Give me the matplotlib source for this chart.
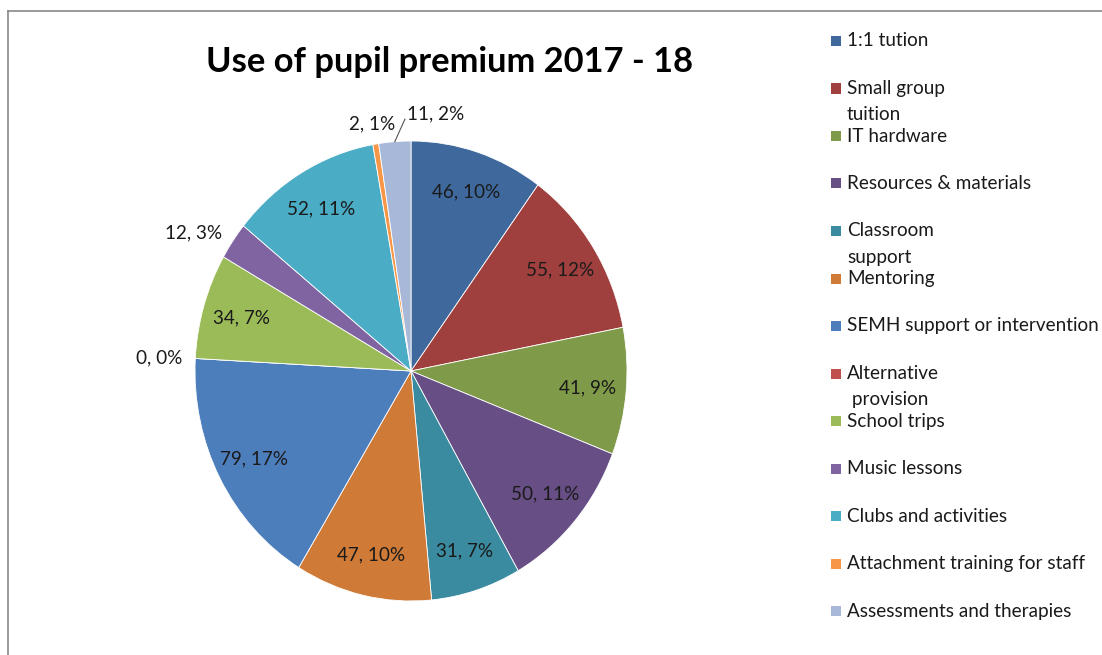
"""
Use of pupil premium 2017 - 18  (Excel-style pie with side legend)
Output: out.png
"""

import numpy as np
import matplotlib.pyplot as plt
from matplotlib.patches import Rectangle
from matplotlib.lines import Line2D

# ── data ──────────────────────────────────────────────────────────────────────
categories = [
    '1:1 tution', 'Small group\ntuition', 'IT hardware', 'Resources & materials',
    'Classroom\nsupport', 'Mentoring', 'SEMH support or intervention',
    'Alternative\n provision', 'School trips', 'Music lessons',
    'Clubs and activities', 'Attachment training for staff',
    'Assessments and therapies',
]
values = [46, 55, 41, 50, 31, 47, 79, 0, 34, 12, 52, 2, 11]
pct_labels = ['10%', '12%', '9%', '11%', '7%', '10%', '17%', '0%', '7%', '3%',
              '11%', '1%', '2%']

# ── palette (Excel 2010 style) ────────────────────────────────────────────────
colors = ['#3F699D', '#A0403E', '#7F9A48', '#674F86', '#3A8AA0', '#CF7B37',
          '#4D7EBC', '#C0504D', '#9BBB59', '#8064A2', '#4BACC6', '#F79646',
          '#A8B8D8']
FONT = 'Lato'
TXT = '#1a1a1a'
FS = 13.6
W, H = 1102, 655

fig = plt.figure(figsize=(W / 100, H / 100), dpi=100)
fig.patch.set_facecolor('white')

# pie axes (slightly stretched vertically, like the original)
cx, cy, rx, ry = 411, 371, 216, 230
ax = fig.add_axes([(cx - rx) / W, (H - cy - ry) / H, 2 * rx / W, 2 * ry / H])

wedges, _ = ax.pie(values, colors=colors, startangle=90, counterclock=False,
                   wedgeprops=dict(edgecolor='white', linewidth=0.6))
ax.set_aspect('auto')
ax.set_xlim(-1, 1)
ax.set_ylim(-1, 1)
ax.axis('off')

# ── data labels ───────────────────────────────────────────────────────────────
total = sum(values)
for i, (w, v, p) in enumerate(zip(wedges, values, pct_labels)):
    mid = np.deg2rad((w.theta1 + w.theta2) / 2)
    c, s = np.cos(mid), np.sin(mid)
    lab = f'{v}, {p}'
    kw = dict(va='center', fontsize=FS, color=TXT, family=FONT, clip_on=False)
    if v / total >= 0.04:
        ax.text(0.82 * c, 0.82 * s, lab, ha='center', **kw)
    elif i == len(values) - 1:
        # last small slice: pushed right with a leader line
        tx, ty = c + 0.055, 1.12
        ax.add_line(Line2D([c, tx - 0.008], [s, ty - 0.025], color='#555555',
                           lw=0.8, clip_on=False))
        ax.text(tx, ty, lab, ha='left', **kw)
    elif c < -0.5:
        ax.text(1.06 * c, 1.06 * s, lab, ha='right', **kw)
    else:
        ax.text(1.09 * c, 1.09 * s, lab, ha='center', **kw)

# ── title ─────────────────────────────────────────────────────────────────────
fig.text(450 / W, 1 - 62 / H, 'Use of pupil premium 2017 - 18', ha='center',
         va='center', fontsize=24.8, fontweight='bold', family=FONT, color='black')

# ── legend (drawn by hand to keep Excel's fixed spacing) ──────────────────────
LX, LY0, LSTEP = 831, 41, 47.5
for i, (name, col) in enumerate(zip(categories, colors)):
    y = LY0 + i * LSTEP
    fig.add_artist(Rectangle((LX / W, 1 - (y + 5) / H), 10 / W, 10 / H,
                             transform=fig.transFigure, facecolor=col,
                             edgecolor='none'))
    for j, line in enumerate(name.split('\n')):
        fig.text((LX + 16) / W, 1 - (y + j * 26) / H, line, ha='left',
                 va='center', fontsize=FS, family=FONT, color=TXT)

# ── chart frame (top and left edges visible) ──────────────────────────────────
fig.add_artist(Line2D([8 / W, 1], [1 - 11 / H, 1 - 11 / H],
                      transform=fig.transFigure, color='#878787', lw=1.2))
fig.add_artist(Line2D([8 / W, 8 / W], [0, 1 - 11 / H],
                      transform=fig.transFigure, color='#878787', lw=1.2))

fig.savefig('out.png', dpi=100, facecolor='white')
